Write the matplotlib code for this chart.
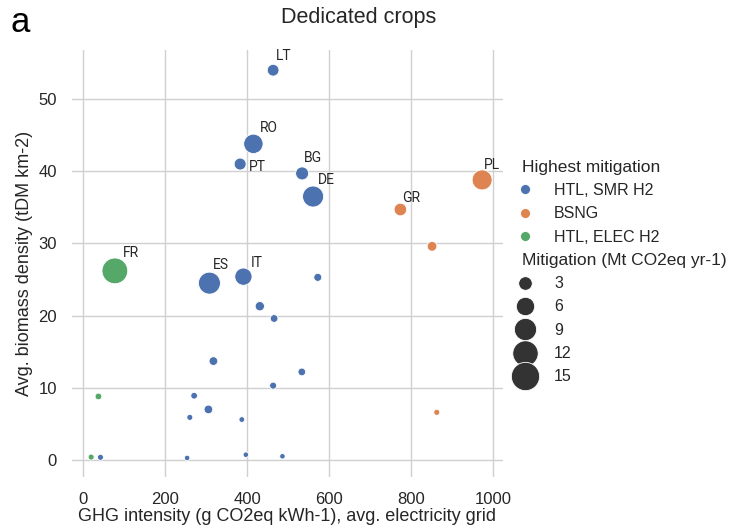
import matplotlib
matplotlib.use("Agg")
import matplotlib.pyplot as plt
import matplotlib.offsetbox as mob
from matplotlib.lines import Line2D
import numpy as np

plt.rcParams['font.family'] = ['Liberation Sans', 'DejaVu Sans']

# grid intensity, biomass density, mitigation and best pathway per country
ghg = [463.4, 415.2, 382.8, 534.2, 561.0, 76.7, 307.8, 390.8, 974.0, 774.3,
       851.7, 572.5, 430.9, 465.8, 317.5, 533.5, 463.4, 36.6, 270.4, 305.3,
       259.9, 386.9, 863.2, 18.8, 41.5, 253.3, 396.7, 486.1]
density = [54.0, 43.8, 41.0, 39.7, 36.5, 26.2, 24.5, 25.4, 38.8, 34.7,
           29.6, 25.3, 21.3, 19.6, 13.7, 12.2, 10.3, 8.8, 8.9, 7.0,
           5.9, 5.6, 6.6, 0.4, 0.37, 0.28, 0.73, 0.51]
mitigation = [2.1, 6.7, 2.2, 2.7, 8.0, 12.3, 8.8, 5.2, 7.2, 2.5,
              1.25, 0.66, 1.1, 0.57, 0.89, 0.57, 0.37, 0.29, 0.29, 0.89,
              0.12, 0.05, 0.12, 0.12, 0.12, 0.0, 0.0, 0.0]
pathway = ['SMR', 'SMR', 'SMR', 'SMR', 'SMR', 'ELEC', 'SMR', 'SMR', 'BSNG', 'BSNG',
           'BSNG', 'SMR', 'SMR', 'SMR', 'SMR', 'SMR', 'SMR', 'ELEC', 'SMR', 'SMR',
           'SMR', 'SMR', 'BSNG', 'ELEC', 'SMR', 'SMR', 'SMR', 'SMR']
country = ['LT', 'RO', 'PT', 'BG', 'DE', 'FR', 'ES', 'IT', 'PL', 'GR'] + [''] * 18

pathway_names = {'SMR': 'HTL, SMR H2', 'BSNG': 'BSNG', 'ELEC': 'HTL, ELEC H2'}
pathway_colors = {'SMR': '#4C72B0', 'BSNG': '#DD8452', 'ELEC': '#55A868'}
size_ticks = [3, 6, 9, 12, 15]

# label offsets in pixels (right, up) from the marker centre
label_offsets = {'LT': (3, 10), 'RO': (6, 12), 'PT': (9, -7), 'BG': (2, 11),
                 'DE': (5, 13), 'FR': (8, 14), 'ES': (3, 14), 'IT': (7, 10),
                 'GR': (2, 8), 'PL': (2, 11)}


def marker_area(m):
    # marker area in points^2, linear in mitigation
    px_area = 30 + 51.4 * np.asarray(m)
    return px_area * 0.72 ** 2


fig = plt.figure(figsize=(7.4, 5.32), dpi=100)
ax = fig.add_axes([72 / 740, 1 - 477 / 532, 431 / 740, 427 / 532])

ghg = np.array(ghg)
density = np.array(density)
mitigation = np.array(mitigation)
pathway = np.array(pathway)

for key in ['SMR', 'BSNG', 'ELEC']:
    sel = pathway == key
    ax.scatter(ghg[sel], density[sel], s=marker_area(mitigation[sel]),
               color=pathway_colors[key], edgecolor='white', linewidth=0.6,
               zorder=3)

for x, y, name in zip(ghg, density, country):
    if name:
        dx, dy = label_offsets[name]
        ax.annotate(name, (x, y), xytext=(dx, dy), textcoords='offset pixels',
                    ha='left', va='baseline', fontsize=10, color='#262626',
                    family=['Liberation Sans Narrow', 'Roboto', 'DejaVu Sans'],
                    zorder=4)

ax.set_xlim(-28, 1025)
ax.set_ylim(-2.36, 56.8)
ax.set_xticks(np.arange(0, 1001, 200))
ax.set_yticks(np.arange(0, 51, 10))
ax.grid(True, color='#d0d0d0', linewidth=1.0)
ax.set_axisbelow(True)
for sp in ax.spines.values():
    sp.set_visible(False)
ax.tick_params(axis='both', length=0, labelsize=12, labelcolor='#262626')
ax.tick_params(axis='x', pad=10.5)
ax.tick_params(axis='y', pad=10.8)

ax.set_xlabel('GHG intensity (g CO2eq kWh-1), avg. electricity grid',
              fontsize=13, color='#262626', labelpad=1)
ax.set_ylabel('Avg. biomass density (tDM km-2)', fontsize=13,
              color='#262626', labelpad=4)

fig.text(359 / 740, 1 - 22.7 / 532, 'Dedicated crops', ha='center',
         va='baseline', fontsize=15.5, color='#262626')
fig.text(10.5 / 740, 1 - 31.7 / 532, 'a', ha='left', va='baseline',
         fontsize=25, color='black')

# legend: hue block and size block, each headed by a subtitle row
handles = [Line2D([], [], linestyle='none', visible=False)]
labels = ['Highest mitigation']
for key in ['SMR', 'BSNG', 'ELEC']:
    handles.append(Line2D([], [], linestyle='none', marker='o', markersize=7.2,
                          markerfacecolor=pathway_colors[key],
                          markeredgecolor='white', markeredgewidth=0.6))
    labels.append(pathway_names[key])
handles.append(Line2D([], [], linestyle='none', visible=False))
labels.append('Mitigation (Mt CO2eq yr-1)')
for v in size_ticks:
    handles.append(Line2D([], [], linestyle='none', marker='o',
                          markersize=np.sqrt(marker_area(v)),
                          markerfacecolor='#333333', markeredgecolor='white',
                          markeredgewidth=0.6))
    labels.append(str(v))

leg = ax.legend(handles, labels, loc='center left', bbox_to_anchor=(1.0, 0.48),
                borderaxespad=0, frameon=False, fontsize=11.5,
                labelspacing=0.52, handlelength=2.0, handletextpad=0.8)
for t in leg.get_texts():
    t.set_color('#262626')
rows = leg.findobj(mob.VPacker)[0].get_children()
for i in (0, 4):
    draw_area, text_area = rows[i].get_children()
    draw_area.set_width(0)
    for t in text_area.get_children():
        t.set_size(12.5)

fig.savefig('out.png', dpi=100)
